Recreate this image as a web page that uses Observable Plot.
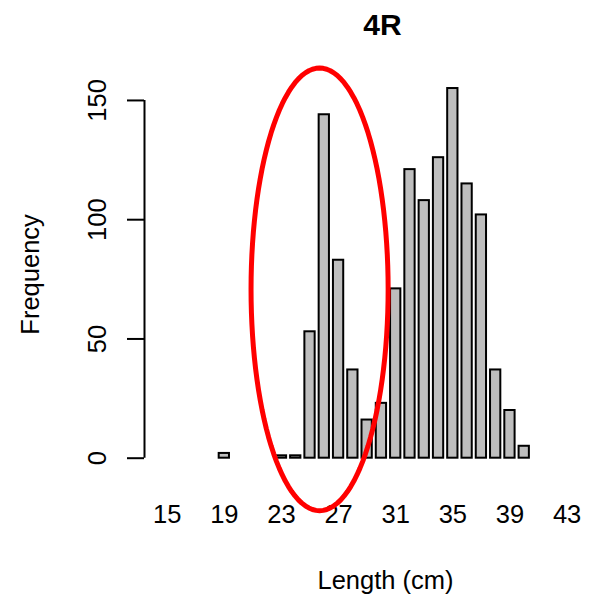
<!DOCTYPE html>
<html>
<head>
<meta charset="utf-8">
<script src="https://cdn.jsdelivr.net/npm/d3@7"></script>
<script src="https://cdn.jsdelivr.net/npm/@observablehq/plot@0.6"></script>
<style>
  html, body { margin: 0; padding: 0; background: #ffffff; }
  #chart { width: 596px; height: 599px; }
  svg { font-family: "Liberation Sans", Arial, Helvetica, sans-serif; }
</style>
</head>
<body>
<div id="chart"></div>
<script>
// ---- data ----
const lengths = [19, 23, 24, 25, 26, 27, 28, 29, 30, 31, 32, 33, 34, 35, 36, 37, 38, 39, 40];
const frequencies = [2, 1, 1, 53, 144, 83, 37, 16, 23, 71, 121, 108, 126, 155, 115, 102, 37, 20, 5];
const xTicks = [15, 19, 23, 27, 31, 35, 39, 43];
const yTicks = [0, 50, 100, 150];
const title = "4R";
const xLabel = "Length (cm)";
const yLabel = "Frequency";
// highlighted group annotation (ellipse centre and radii in data units)
const highlight = {cx: 25.67, cy: 70.8, rx: 4.8, ry: 92.8};

const bars = lengths.map((l, i) => ({length: l, freq: frequencies[i]}));

const xDomain = [13.41, 45.06];
const yDomain = [0, 160];

const ellipsePts = d3.range(0, 361, 3).map(a => {
  const t = a * Math.PI / 180;
  return {x: highlight.cx + highlight.rx * Math.cos(t), y: highlight.cy + highlight.ry * Math.sin(t)};
});

const chart = Plot.plot({
  width: 596,
  height: 599,
  marginLeft: 144,
  marginRight: 0,
  marginTop: 76.1,
  marginBottom: 141.3,
  style: {fontFamily: '"Liberation Sans", Arial, sans-serif', background: "#ffffff", color: "#000"},
  x: {domain: xDomain, axis: null},
  y: {domain: yDomain, axis: null},
  marks: [
    Plot.rectY(bars, {
      x1: d => d.length - 0.5, x2: d => d.length + 0.5, y1: 0, y2: "freq",
      insetLeft: 2, insetRight: 2,
      fill: "#bebebe", stroke: "#000", strokeWidth: 2
    }),
    // y axis line (R style: spans first to last tick)
    Plot.ruleX([xDomain[0]], {y1: yTicks[0], y2: yTicks[yTicks.length - 1], stroke: "#000", strokeWidth: 2}),
    Plot.axisY({ticks: yTicks, anchor: "left", tickSize: 17, tickFormat: () => "", label: null, strokeWidth: 2}),
    Plot.text(yTicks, {
      y: d => d, text: d => String(d), frameAnchor: "left", dx: -47,
      rotate: -90, textAnchor: "middle", lineAnchor: "middle", fontSize: 25.5, fill: "#000"
    }),
    Plot.text(xTicks, {
      x: d => d, text: d => String(d), frameAnchor: "bottom", dy: 57,
      textAnchor: "middle", lineAnchor: "middle", fontSize: 25.5, fill: "#000"
    }),
    Plot.text([xLabel], {
      text: d => d, frameAnchor: "bottom", dx: 15, dy: 123,
      textAnchor: "middle", lineAnchor: "middle", fontSize: 25.5, fill: "#000"
    }),
    Plot.text([yLabel], {
      text: d => d, frameAnchor: "left", dx: -114, dy: 7,
      rotate: -90, textAnchor: "middle", lineAnchor: "middle", fontSize: 25.5, fill: "#000"
    }),
    Plot.text([title], {
      text: d => d, frameAnchor: "top", dx: 12, dy: -51,
      textAnchor: "middle", lineAnchor: "middle", fontSize: 30, fontWeight: "bold", fill: "#000"
    }),
    Plot.line(ellipsePts, {x: "x", y: "y", stroke: "#ff0000", strokeWidth: 5, curve: "linear-closed"})
  ]
});

document.getElementById("chart").appendChild(chart);
</script>
</body>
</html>
